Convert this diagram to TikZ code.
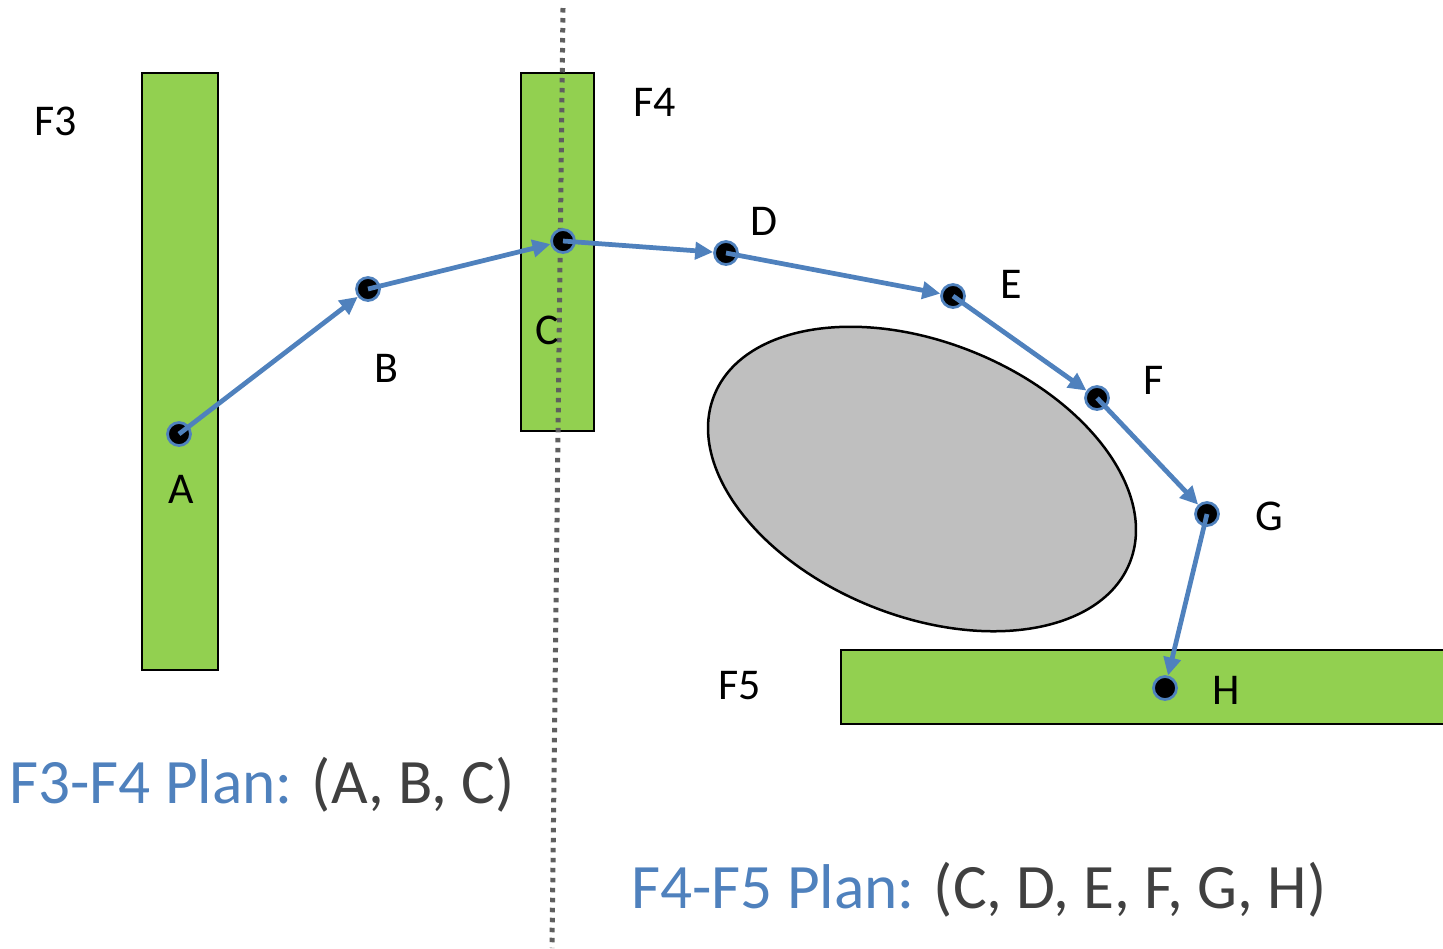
\documentclass[tikz,border=0pt]{standalone}
\usepackage{fontspec}
\setmainfont{Carlito}
\usetikzlibrary{arrows.meta}
\definecolor{Leaf}{HTML}{92D050}
\definecolor{Route}{HTML}{4F81BD}
\definecolor{Rock}{HTML}{BFBFBF}
\definecolor{Ink}{HTML}{404040}
\definecolor{Border}{HTML}{5F5F5F}
\tikzset{
  >=Latex,
  field/.style={draw=black,line width=.045cm,fill=Leaf},
  wp/.style={circle,fill=black,draw=Route,line width=.055cm,minimum size=.46cm,inner sep=0pt},
  hop/.style={-{Triangle[length=.36cm,width=.34cm]},draw=Route,line width=.095cm},
  obstacle/.style={draw=black,line width=.05cm,fill=Rock},
  boundary/.style={draw=Border,line width=.1cm,dash pattern=on .09cm off .11cm},
  lab/.style={font=\fontsize{25}{30}\selectfont,inner sep=1pt},
  plan/.style={font=\fontsize{36}{42}\selectfont,text=Ink,inner sep=0pt,anchor=base west}
}

\begin{document}
\begin{tikzpicture}[x=.02cm,y=-.02cm]
        \clip (0,0) rectangle (1443,948);
        % fields and the obstacle
        \draw[field] (142,73) rectangle (218,670);
        \draw[field] (521,73) rectangle (594,431);
        \draw[field] (841,650) rectangle (1460,724);
        \draw[obstacle,rotate around={-22:(922,479)}] (922,479) ellipse [x radius=224, y radius=137];
        % split between F3-F4 and F4-F5
        \coordinate (cutTop) at (563,8); \coordinate (cutBot) at (552,948);
        \draw[boundary] (cutTop)--(cutBot);
        % waypoints
        \node[wp] (a) at (179,434) {}; \node[wp] (b) at (368,289) {};
        \node[wp] (c) at (563,241) {}; \node[wp] (d) at (726,253) {};
        \node[wp] (e) at (953,296) {}; \node[wp] (f) at (1097,398) {};
        \node[wp] (g) at (1207,514) {}; \node[wp] (h) at (1165,688) {};
        \draw[hop] (a.center)--(b); \draw[hop] (b.center)--(c);
        \draw[hop] (c.center)--(d); \draw[hop] (d.center)--(e);
        \draw[hop] (e.center)--(f); \draw[hop] (f.center)--(g);
        \draw[hop] (g.center)--(h);
        % labels
        \node[lab] (lA) at (181,489) {A}; \node[lab] (lB) at (386,368) {B};
        \node[lab] (lC) at (547,330) {C}; \node[lab] (lD) at (764,221) {D};
        \node[lab] (lE) at (1011,284) {E}; \node[lab] (lF) at (1154,380) {F};
        \node[lab] (lG) at (1269,516) {G}; \node[lab] (lH) at (1226,690) {H};
        \node[lab] (f3) at (56,121) {F3}; \node[lab] (f4) at (655,102) {F4};
        \node[lab] (f5) at (740,686) {F5};
        \node[plan] (plan34) at (9,803) {\textcolor{Route}{F3-F4 Plan:} (A, B, C)};
        \node[plan] (plan45) at (631,908) {\textcolor{Route}{F4-F5 Plan:} (C, D, E, F, G, H)};
      \end{tikzpicture}
\end{document}
